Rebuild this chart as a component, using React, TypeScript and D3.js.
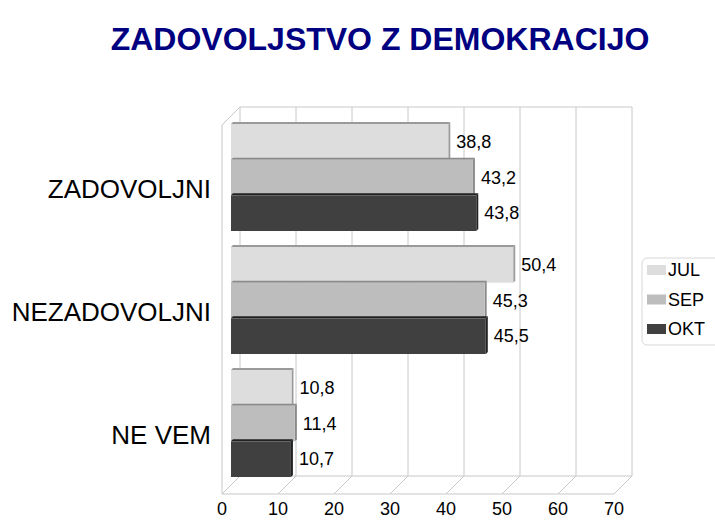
import React from 'react'
import * as d3 from 'd3'

const categories = ['ZADOVOLJNI', 'NEZADOVOLJNI', 'NE VEM']
const series = ['JUL', 'SEP', 'OKT']
const julValues = [38.8, 50.4, 10.8]
const sepValues = [43.2, 45.3, 11.4]
const oktValues = [43.8, 45.5, 10.7]
const xTicks = [0, 10, 20, 30, 40, 50, 60, 70]
const title = 'ZADOVOLJSTVO Z DEMOKRACIJO'

const colors = { JUL: '#dddddd', SEP: '#bdbdbd', OKT: '#404040' }
const sides = { JUL: '#9a9a9a', SEP: '#8a8a8a', OKT: '#222222' }

const W = 715
const H = 520
const depth = 18
const back = { left: 240, right: 632, top: 107, bottom: 476 }
const fmt = (v) => String(v).replace('.', ',')

export default function App() {
  const valuesBySeries = { JUL: julValues, SEP: sepValues, OKT: oktValues }
  const rows = categories.map((c, i) => ({
    category: c,
    values: series.map((s) => ({ key: s, value: valuesBySeries[s][i] })),
  }))

  // bars sit at half the depth
  const half = depth / 2
  const x = d3.scaleLinear().domain([0, 70]).range([back.left - half, back.right - half])
  const xBack = d3.scaleLinear().domain([0, 70]).range([back.left, back.right])
  const xFront = d3.scaleLinear().domain([0, 70]).range([back.left - depth, back.right - depth])

  const y = d3.scaleBand()
    .domain(categories)
    .range([back.top + half, back.bottom + half])
    .paddingInner(0.13)
    .paddingOuter(0.065)
  const ySub = d3.scaleBand().domain(series).range([0, y.bandwidth()])

  const grid = '#c8c8c8'
  const font = 'Arial, "Liberation Sans", sans-serif'
  const s = 2

  return (
    <svg width={W} height={H} style={{ position: 'absolute', left: 0, top: 0 }} fontFamily={font}>
      <rect width={W} height={H} fill="#ffffff" />
      <text x={380} y={50} textAnchor="middle" fontSize={32} fontWeight="bold" fill="#000080">
        {title}
      </text>

      {/* back wall */}
      <line x1={back.left} x2={back.right} y1={back.top} y2={back.top} stroke={grid} />
      {xTicks.map((t) => (
        <line key={'g' + t} x1={xBack(t)} x2={xBack(t)} y1={back.top} y2={back.bottom} stroke={grid} />
      ))}
      {/* left wall */}
      <line x1={back.left - depth} x2={back.left - depth} y1={back.top + depth} y2={back.bottom + depth} stroke={grid} />
      <line x1={back.left - depth} x2={back.left} y1={back.top + depth} y2={back.top} stroke={grid} />
      {/* floor */}
      <line x1={back.left} x2={back.right} y1={back.bottom} y2={back.bottom} stroke={grid} />
      <line x1={back.left - depth} x2={back.right - depth} y1={back.bottom + depth} y2={back.bottom + depth} stroke={grid} />
      {xTicks.map((t) => (
        <line key={'f' + t} x1={xBack(t)} x2={xFront(t)} y1={back.bottom} y2={back.bottom + depth} stroke={grid} />
      ))}

      {rows.map((r) => (
        <g key={r.category}>
          {r.values.map((d) => {
            const y0 = y(r.category) + ySub(d.key)
            const h = ySub.bandwidth()
            const x0 = x(0)
            const x1 = x(d.value)
            return (
              <g key={d.key}>
                <polygon
                  points={`${x0},${y0} ${x1},${y0} ${x1 + s},${y0 - s} ${x0 + s},${y0 - s}`}
                  fill={sides[d.key]}
                />
                <polygon
                  points={`${x1},${y0} ${x1 + s},${y0 - s} ${x1 + s},${y0 + h - s} ${x1},${y0 + h}`}
                  fill={sides[d.key]}
                />
                <rect x={x0} y={y0} width={x1 - x0} height={h} fill={colors[d.key]} />
                <text x={x1 + 8} y={y0 + h / 2} dy="0.35em" fontSize={18} fill="#000">
                  {fmt(d.value)}
                </text>
              </g>
            )
          })}
          <text
            x={211}
            y={y(r.category) + y.bandwidth() / 2 + 11}
            dy="0.35em"
            textAnchor="end"
            fontSize={26}
            fill="#000"
          >
            {r.category}
          </text>
        </g>
      ))}

      {xTicks.map((t) => (
        <text key={'t' + t} x={xFront(t)} y={509} dy="0.35em" textAnchor="middle" fontSize={18} fill="#000">
          {t}
        </text>
      ))}

      {/* legend */}
      <rect x={642} y={258} width={80} height={87} rx={5} fill="#fff" stroke="#d8d8d8" />
      {series.map((k, i) => (
        <g key={k} transform={`translate(647, ${270 + i * 29.5})`}>
          <rect x={0} y={-5} width={19} height={10} fill={colors[k]} />
          <text x={21} y={0} dy="0.35em" fontSize={18} fill="#000">
            {k}
          </text>
        </g>
      ))}
    </svg>
  )
}
